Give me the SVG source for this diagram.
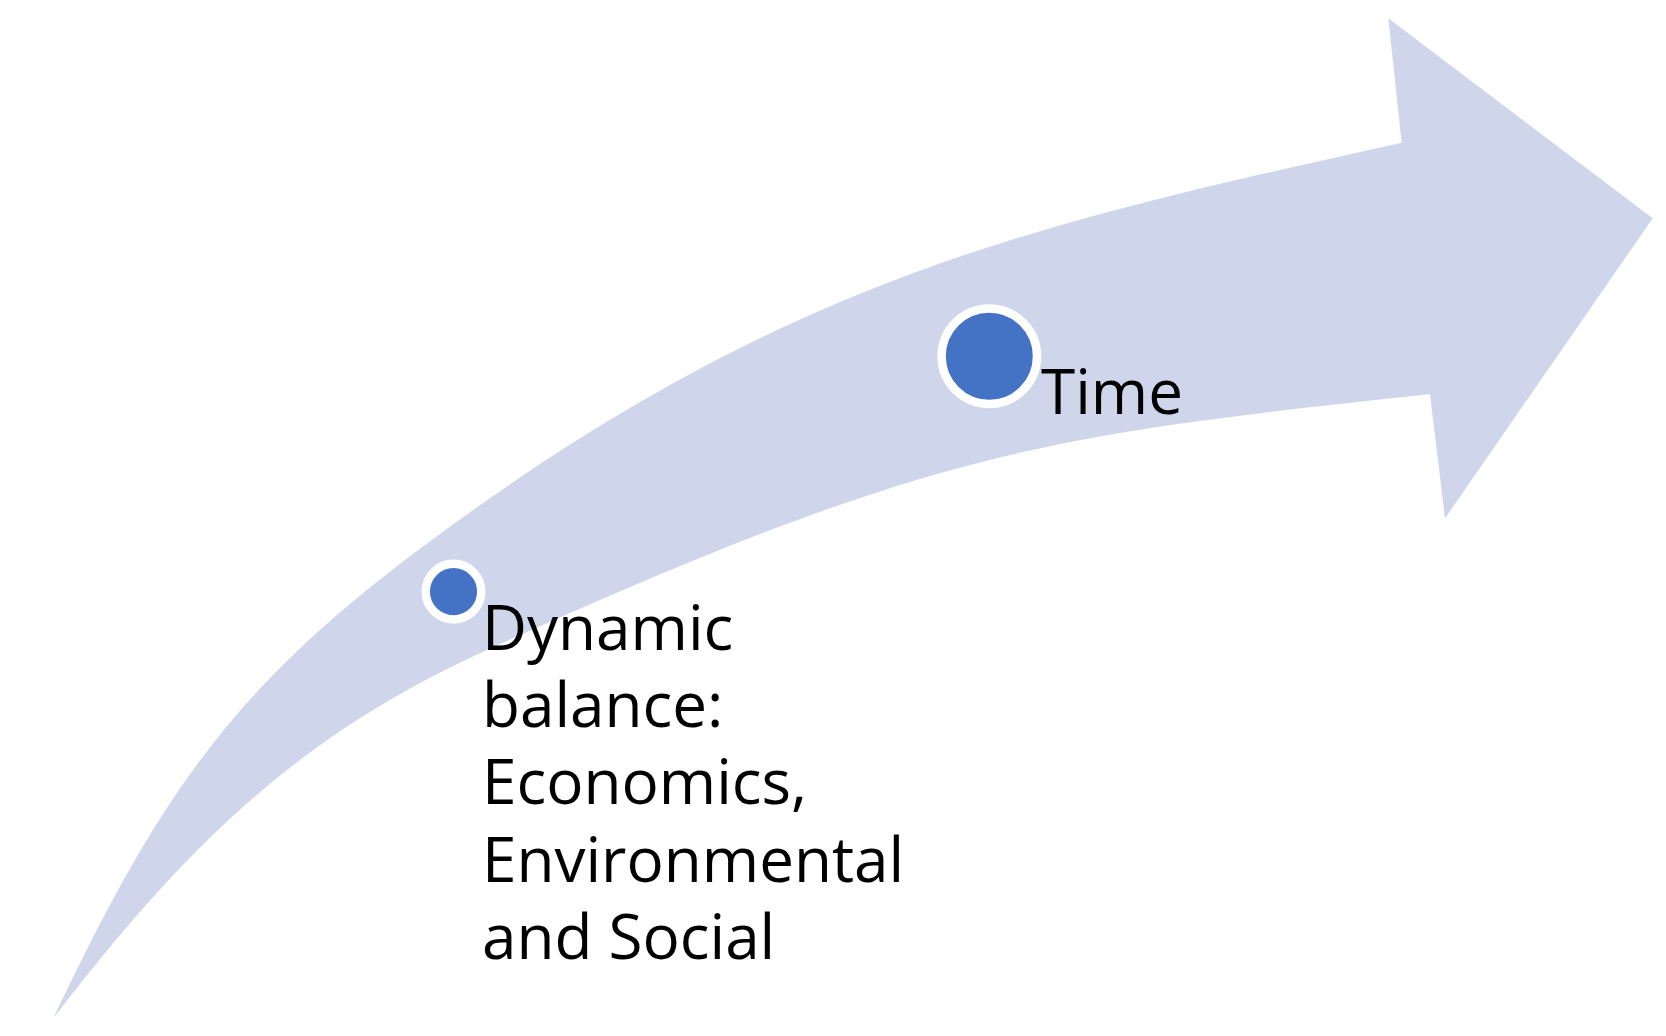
<svg xmlns="http://www.w3.org/2000/svg" width="1666" height="1036" viewBox="0 0 1666 1036">
<style>
.lbl{font-family:"Open Sans","Noto Sans","DejaVu Sans",sans-serif;font-size:62px;fill:#000}
.dot{fill:#4472C4;stroke:#FFFFFF;stroke-width:8.5}
</style>
<rect width="1666" height="1036" fill="#FFFFFF"/>
<g id="arrow">
<path fill="#CFD5EA" d="M53.3,1018.3 C156.5,801.6 228.5,691.5 421,548 C781.9,278.9 1030.8,224.8 1401.7,142.7 L1388.3,18.3 L1652.7,218.3 L1445,518.3 L1430,394.3 C1032.2,436.1 924.8,453.2 487,650 C295.5,736.1 181.4,851.8 53.3,1018.3 Z"/>
</g>
<g id="connectors"></g>
<g id="node-balance">
<circle class="dot" cx="453.5" cy="591.6" r="27.8"/>
<text class="lbl" x="482" y="650">Dynamic</text>
<text class="lbl" x="482" y="727">balance:</text>
<text class="lbl" x="482" y="804">Economics,</text>
<text class="lbl" x="482" y="882">Environmental</text>
<text class="lbl" x="482" y="959">and Social</text>
</g>
<g id="node-time">
<circle class="dot" cx="989.3" cy="356.3" r="47.7"/>
<text class="lbl" x="1041" y="414">Time</text>
</g>
</svg>
